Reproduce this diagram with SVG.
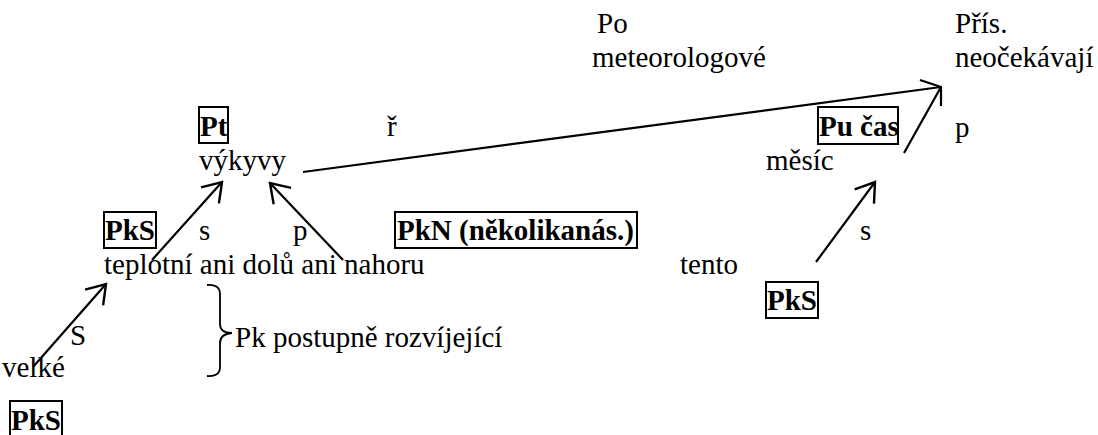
<svg xmlns="http://www.w3.org/2000/svg" width="1098" height="435" viewBox="0 0 1098 435">
<style>
text{font-family:"Liberation Serif",serif;font-size:29px;fill:#000}
.b{font-weight:bold}
.box{fill:none;stroke:#000;stroke-width:2}
.ln{fill:none;stroke:#000;stroke-width:2.2}
.br{fill:none;stroke:#000;stroke-width:1.8}
</style>
<defs>
<marker id="ah" markerUnits="userSpaceOnUse" markerWidth="30" markerHeight="30" viewBox="-20 -15 25 30" refX="0" refY="0" orient="auto">
<path d="M-18,-12 L0,0 L-18,12" fill="none" stroke="#000" stroke-width="2.4"/>
</marker>
</defs>
<rect width="1098" height="435" fill="#fff"/>
<g id="po"><text x="597" y="33">Po</text><text x="592" y="67">meteorologové</text></g>
<g id="pris"><text x="955" y="33">Přís.</text><text x="955" y="67">neočekávají</text></g>
<g id="pt"><rect class="box" x="199" y="107" width="29" height="36"/><text class="b" x="200" y="136">Pt</text></g>
<g id="r"><text x="387" y="136">ř</text></g>
<g id="vykyvy"><text x="199" y="170">výkyvy</text></g>
<g id="pucas"><rect class="box" x="818" y="107" width="80" height="37"/><text class="b" x="819" y="136">Pu čas</text></g>
<g id="p1"><text x="955" y="137">p</text></g>
<g id="mesic"><text x="766" y="170">měsíc</text></g>
<g id="pks1"><rect class="box" x="104" y="212" width="52" height="36"/><text class="b" x="105" y="240">PkS</text></g>
<g id="s1"><text x="199" y="240">s</text></g>
<g id="p2"><text x="293" y="240">p</text></g>
<g id="pkn"><rect class="box" x="395" y="212" width="242" height="36"/><text class="b" x="397" y="240">PkN (několikanás.)</text></g>
<g id="s2"><text x="860" y="240">s</text></g>
<g id="teplotni"><text x="104" y="274">teplotní ani dolů ani nahoru</text></g>
<g id="tento"><text x="680" y="274">tento</text></g>
<g id="pks2"><rect class="box" x="766" y="282" width="52" height="36"/><text class="b" x="767" y="310">PkS</text></g>
<g id="S"><text x="70" y="345">S</text></g>
<g id="brace"><path class="br" d="M207,285 Q220,284 220,294 L220,324 Q220,333 232,333 Q220,334 220,343 L220,367 Q220,377 207,376"/></g>
<g id="pkpost"><text x="235" y="347">Pk postupně rozvíjející</text></g>
<g id="velke"><text x="2" y="377">velké</text></g>
<g id="pks3"><rect class="box" x="10" y="401" width="52" height="36"/><text class="b" x="11" y="430">PkS</text></g>
<g id="connectors">
<line class="ln" x1="152" y1="260" x2="222" y2="182" marker-end="url(#ah)"/>
<line class="ln" x1="343" y1="260" x2="270" y2="183" marker-end="url(#ah)"/>
<line class="ln" x1="303" y1="172" x2="941" y2="87"/>
<line class="ln" x1="904" y1="153" x2="941" y2="87"/>
<polyline class="ln" points="920,80 941,87 941,106"/>
<line class="ln" x1="816" y1="262" x2="875" y2="182" marker-end="url(#ah)"/>
<line class="ln" x1="33" y1="367" x2="106" y2="284" marker-end="url(#ah)"/>
</g>
</svg>
